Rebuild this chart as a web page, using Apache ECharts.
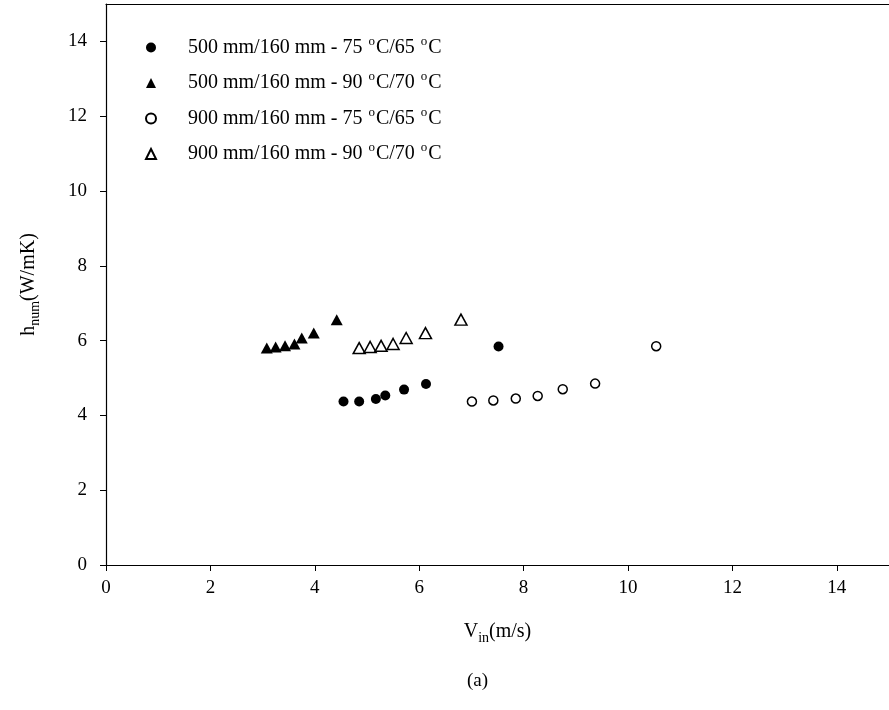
<!DOCTYPE html>
<html>
<head>
<meta charset="utf-8">
<script src="https://cdn.jsdelivr.net/npm/echarts@6/dist/echarts.min.js"></script>
<style>
  html, body { margin: 0; padding: 0; background: #fff; }
  #main { width: 889px; height: 710px; }
</style>
</head>
<body>
<div id="main"></div>
<script>
// series names
var names = [
  "500 mm/160 mm - 75 °C/65 °C",
  "500 mm/160 mm - 90 °C/70 °C",
  "900 mm/160 mm - 75 °C/65 °C",
  "900 mm/160 mm - 90 °C/70 °C"
];

// 500 mm, 75/65 (filled circle)
var vIn500a = [4.55, 4.85, 5.17, 5.35, 5.71, 6.13, 7.52];
var h500a = [4.37, 4.37, 4.44, 4.53, 4.69, 4.84, 5.84];
// 500 mm, 90/70 (filled triangle)
var vIn500b = [3.08, 3.25, 3.43, 3.61, 3.75, 3.98, 4.42];
var h500b = [5.80, 5.83, 5.86, 5.91, 6.07, 6.20, 6.56];
// 900 mm, 75/65 (open circle)
var vIn900a = [7.01, 7.42, 7.85, 8.27, 8.75, 9.37, 10.54];
var h900a = [4.37, 4.40, 4.45, 4.52, 4.70, 4.85, 5.85];
// 900 mm, 90/70 (open triangle)
var vIn900b = [4.85, 5.06, 5.27, 5.50, 5.75, 6.12, 6.80];
var h900b = [5.80, 5.83, 5.86, 5.91, 6.07, 6.20, 6.56];

function pairs(xs, ys) {
  return xs.map(function (x, i) { return [x, ys[i]]; });
}

var font = "Liberation Serif";
var chart = echarts.init(document.getElementById("main"));

var option = {
  backgroundColor: "#fff",
  animation: false,
  grid: { left: 106, right: 0, top: 4, bottom: 145 },
  legend: {
    orient: "vertical",
    left: 145,
    top: 35,
    padding: 0,
    itemWidth: 10,
    itemHeight: 10,
    itemGap: 13,
    data: names,
    formatter: function (name) {
      return "{t|" + name.replace(/°/g, "}{s|o}{t|") + "}";
    },
    textStyle: {
      fontFamily: font,
      color: "#000",
      padding: [0, 0, 0, 27],
      rich: {
        t: { fontFamily: font, fontSize: 20, color: "#000" },
        s: { fontFamily: font, fontSize: 13, color: "#000", padding: [0, 1, 12, 1] }
      }
    }
  },
  xAxis: [
    {
      type: "value",
      min: 0,
      max: 15,
      interval: 2,
      name: "{t|V}{b|in}{t|(m/s)}",
      nameLocation: "middle",
      nameGap: 53,
      nameTextStyle: {
        rich: {
          t: { fontFamily: font, fontSize: 20, color: "#000" },
          b: { fontFamily: font, fontSize: 14, color: "#000", padding: [13, 0, 0, 0] }
        }
      },
      axisLine: { lineStyle: { color: "#000", width: 1.2 } },
      axisTick: { length: 6, lineStyle: { color: "#000" } },
      axisLabel: {
        fontFamily: font, fontSize: 19, color: "#000", margin: 14,
        showMaxLabel: false,
        formatter: function (v) { return v % 2 === 0 ? v : ""; }
      },
      splitLine: { show: false }
    },
    {
      type: "value",
      position: "top",
      min: 0,
      max: 15,
      axisLine: { show: true, lineStyle: { color: "#000", width: 1.2 } },
      axisTick: { show: false },
      axisLabel: { show: false },
      splitLine: { show: false }
    }
  ],
  yAxis: {
    type: "value",
    min: 0,
    max: 15,
    interval: 2,
    name: "{t|h}{b|num}{t|(W/mK)}",
    nameLocation: "middle",
    nameGap: 64,
    nameTextStyle: {
      rich: {
        t: { fontFamily: font, fontSize: 20, color: "#000" },
        b: { fontFamily: font, fontSize: 14, color: "#000", padding: [13, 0, 0, 0] }
      }
    },
    axisLine: { show: true, lineStyle: { color: "#000", width: 1.2 } },
    axisTick: { show: true, length: 6, lineStyle: { color: "#000" } },
    axisLabel: {
      fontFamily: font, fontSize: 19, color: "#000", margin: 19,
      showMaxLabel: false,
      formatter: function (v) { return v % 2 === 0 ? v : ""; }
    },
    splitLine: { show: false }
  },
  series: [
    {
      name: names[0], type: "scatter", symbol: "circle", symbolSize: 10,
      itemStyle: { color: "#000", opacity: 1 },
      data: pairs(vIn500a, h500a)
    },
    {
      name: names[1], type: "scatter", symbol: "triangle", symbolSize: [12, 11],
      itemStyle: { color: "#000", opacity: 1 },
      data: pairs(vIn500b, h500b)
    },
    {
      name: names[2], type: "scatter", symbol: "circle", symbolSize: 9,
      itemStyle: { color: "#fff", borderColor: "#000", borderWidth: 1.5, opacity: 1 },
      data: pairs(vIn900a, h900a)
    },
    {
      name: names[3], type: "scatter", symbol: "triangle", symbolSize: [12, 11],
      itemStyle: { color: "#fff", borderColor: "#000", borderWidth: 1.5, opacity: 1 },
      data: pairs(vIn900b, h900b)
    }
  ],
  graphic: [
    {
      type: "text",
      left: 467,
      top: 672,
      style: { text: "(a)", font: "19px 'Liberation Serif'", fill: "#000" }
    }
  ]
};

chart.setOption(option);
</script>
</body>
</html>
